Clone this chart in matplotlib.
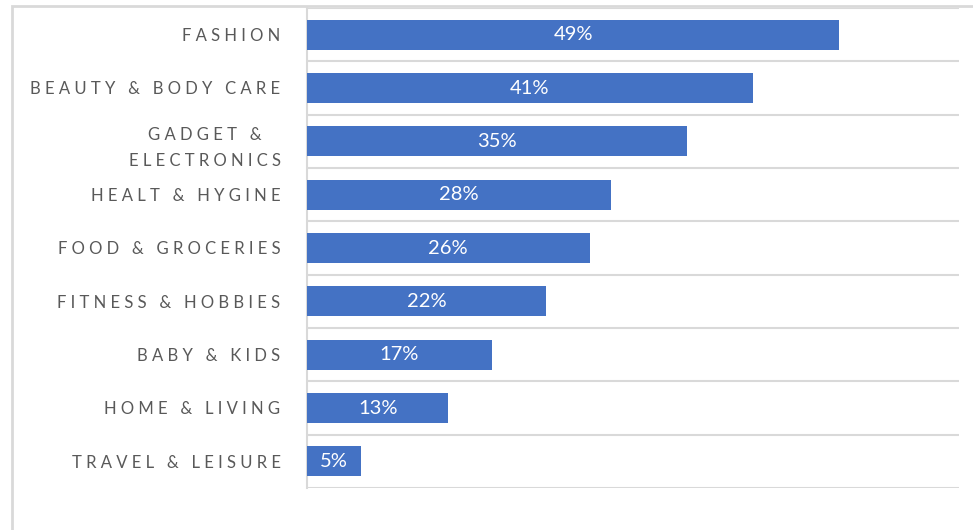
import matplotlib.pyplot as plt
from matplotlib.patches import Rectangle
import numpy as np

categories = ['FASHION', 'BEAUTY & BODY CARE', 'GADGET &\nELECTRONICS', 'HEALT & HYGINE',
              'FOOD & GROCERIES', 'FITNESS & HOBBIES', 'BABY & KIDS', 'HOME & LIVING',
              'TRAVEL & LEISURE']
values = [49, 41, 35, 28, 26, 22, 17, 13, 5]
value_labels = ['49%', '41%', '35%', '28%', '26%', '22%', '17%', '13%', '5%']

plt.rcParams['font.family'] = ['Lato', 'DejaVu Sans']

bar_color = '#4472C4'
grid_color = '#D9D9D9'


def spaced(s):
    #fake letter spacing
    return '\n'.join(' '.join(list(line)) for line in s.split('\n'))


fig = plt.figure(figsize=(9.73, 5.30), dpi=100)
ax = fig.add_axes([307/973, 1-488/530, (959-307)/973, (488-8)/530])

y = np.arange(len(categories))
ax.barh(y, values, height=0.56, color=bar_color, zorder=3)

for yi, v, lab in zip(y, values, value_labels):
    ax.text(v/2, yi, lab, ha='center', va='center', color='white', fontsize=14.5, zorder=4)

ax.set_xlim(0, 60)
ax.set_ylim(len(categories)-0.5, -0.5)
ax.set_yticks(y)
ax.set_yticklabels([spaced(c) for c in categories], fontsize=12, color='#595959',
                   multialignment='center', linespacing=1.8)
ax.set_yticks(np.arange(-0.5, len(categories), 1), minor=True)
ax.tick_params(axis='y', which='both', length=0, pad=19)
ax.tick_params(axis='x', bottom=False, labelbottom=False)
ax.grid(axis='y', which='minor', color=grid_color, linewidth=1.5, zorder=0)
ax.grid(axis='y', which='major', visible=False)

for s in ['top', 'right', 'bottom']:
    ax.spines[s].set_visible(False)
ax.spines['left'].set_color(grid_color)
ax.spines['left'].set_linewidth(1.5)

#outer chart frame, cropped at right and bottom
fig.patches.append(Rectangle((12/973, -0.1), 1.1, 1.1-6/530, transform=fig.transFigure,
                             fill=False, edgecolor=grid_color, linewidth=2))

fig.savefig('out.png', dpi=100)
